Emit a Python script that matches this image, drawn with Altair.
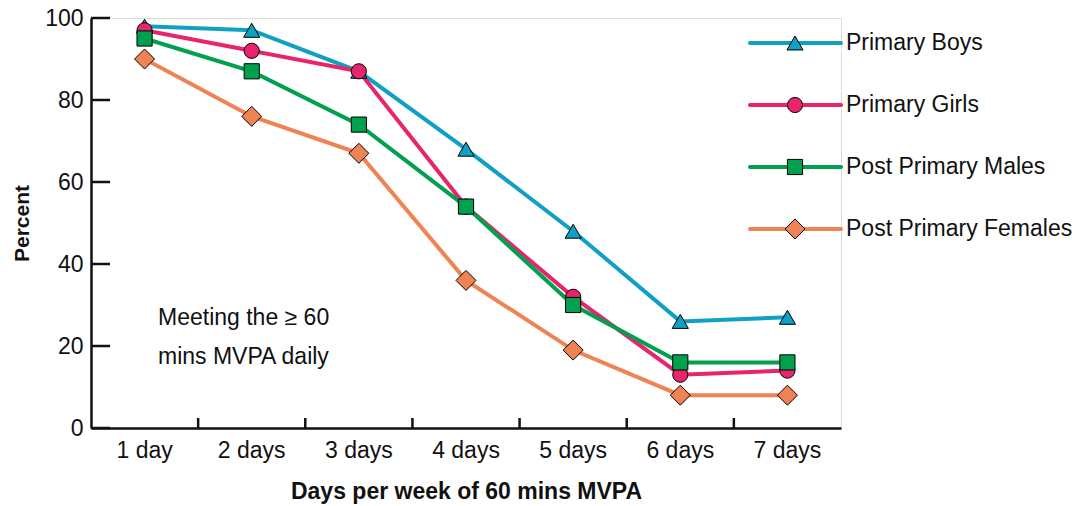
import altair as alt
import pandas as pd

days = ["1 day", "2 days", "3 days", "4 days", "5 days", "6 days", "7 days"]
series = ["Primary Boys", "Primary Girls", "Post Primary Males", "Post Primary Females"]
colors = ["#0fa0c4", "#e8246c", "#00a04f", "#ef8354"]
shapes = ["triangle-up", "circle", "square", "diamond"]
sizes = [260, 230, 230, 400]

primary_boys = [98, 97, 87, 68, 48, 26, 27]
primary_girls = [97, 92, 87, 54, 32, 13, 14]
post_primary_males = [95, 87, 74, 54, 30, 16, 16]
post_primary_females = [90, 76, 67, 36, 19, 8, 8]

y_ticks = [0, 20, 40, 60, 80, 100]

FONT = "Liberation Sans"
W, H = 750, 410

rows = []
for name, vals in zip(series, [primary_boys, primary_girls, post_primary_males, post_primary_females]):
    for d, v in zip(days, vals):
        rows.append({"series": name, "day": d, "value": v})
df = pd.DataFrame(rows)

color = alt.Color("series:N", scale=alt.Scale(domain=series, range=colors), legend=None)
fill = alt.Fill("series:N", scale=alt.Scale(domain=series, range=colors), legend=None)
shape = alt.Shape("series:N", scale=alt.Scale(domain=series, range=shapes), legend=None)
size = alt.Size("series:N", scale=alt.Scale(domain=series, range=sizes, type="ordinal"), legend=None)

xenc = alt.X("day:N", sort=days,
             scale=alt.Scale(domain=days, paddingInner=0, paddingOuter=0),
             axis=alt.Axis(title="Days per week of 60 mins MVPA", labelAngle=0, ticks=False,
                           labelFont=FONT, labelFontSize=23, labelColor="#111", labelPadding=11,
                           titleFont=FONT, titleFontSize=23, titleFontWeight="bold", titleColor="#111",
                           titlePadding=18, domainColor="#111", domainWidth=2.5, grid=False))
yenc = alt.Y("value:Q", scale=alt.Scale(domain=[0, 100], nice=False, zero=True),
             axis=alt.Axis(title="Percent", values=y_ticks, ticks=False,
                           labelFont=FONT, labelFontSize=23, labelColor="#111", labelPadding=8,
                           titleFont=FONT, titleFontSize=21, titleFontWeight="bold", titleColor="#111",
                           titlePadding=12, domainColor="#111", domainWidth=2.5, grid=False))
ynoaxis = alt.Y("value:Q", scale=alt.Scale(domain=[0, 100], nice=False, zero=True), axis=None)

base = alt.Chart(df)
lines = base.mark_line(strokeWidth=4).encode(x=xenc, y=yenc, color=color, detail="series:N")
points = base.mark_point(filled=True, stroke="black", strokeWidth=1, opacity=1).encode(
    x=alt.X("day:N", sort=days), y=ynoaxis, shape=shape, fill=fill, size=size)

ytick_df = pd.DataFrame({"value": y_ticks})
yticks = alt.Chart(ytick_df).mark_rule(color="#111", strokeWidth=2.5).encode(
    x=alt.value(0), x2=alt.value(19), y=ynoaxis)

xtick_df = pd.DataFrame({"day": days[1:]})
xticks = alt.Chart(xtick_df).mark_rule(color="#111", strokeWidth=2.5).encode(
    x=alt.X("day:N", sort=days, bandPosition=0), y=alt.value(H - 10), y2=alt.value(H))

note = alt.Chart(pd.DataFrame({"t": ["Meeting the ≥ 60"]})).mark_text(
    align="left", baseline="middle", font=FONT, fontSize=23, color="#111",
    text=["Meeting the ≥ 60", "mins MVPA daily"], lineHeight=39).encode(
    x=alt.value(67), y=alt.value(300))

leg_df = pd.DataFrame({"series": series})
ly = alt.Y("series:N", scale=alt.Scale(type="point", domain=series, range=[25, 211], padding=0), axis=None)
leg_line = alt.Chart(leg_df).mark_rule(strokeWidth=4, strokeCap="round").encode(
    x=alt.value(659), x2=alt.value(750), y=ly, color=color)
leg_pt = alt.Chart(leg_df).mark_point(filled=True, stroke="black", strokeWidth=1, opacity=1).encode(
    x=alt.value(704), y=ly, shape=shape, fill=fill, size=size)
leg_txt = alt.Chart(leg_df).mark_text(align="left", baseline="middle", font=FONT, fontSize=23,
                                      color="#111").encode(
    x=alt.value(755), y=ly, text="series:N")

chart = alt.layer(lines, points, yticks, xticks, note, leg_line, leg_pt, leg_txt).resolve_scale(
    y="independent").properties(
    width=W, height=H,
    autosize=alt.AutoSizeParams(type="none"),
    padding={"left": 91, "top": 18, "right": 242, "bottom": 78},
).configure_view(stroke=None).configure(background="white")

chart.save("out.html", embed_options={"renderer": "svg", "actions": False})
